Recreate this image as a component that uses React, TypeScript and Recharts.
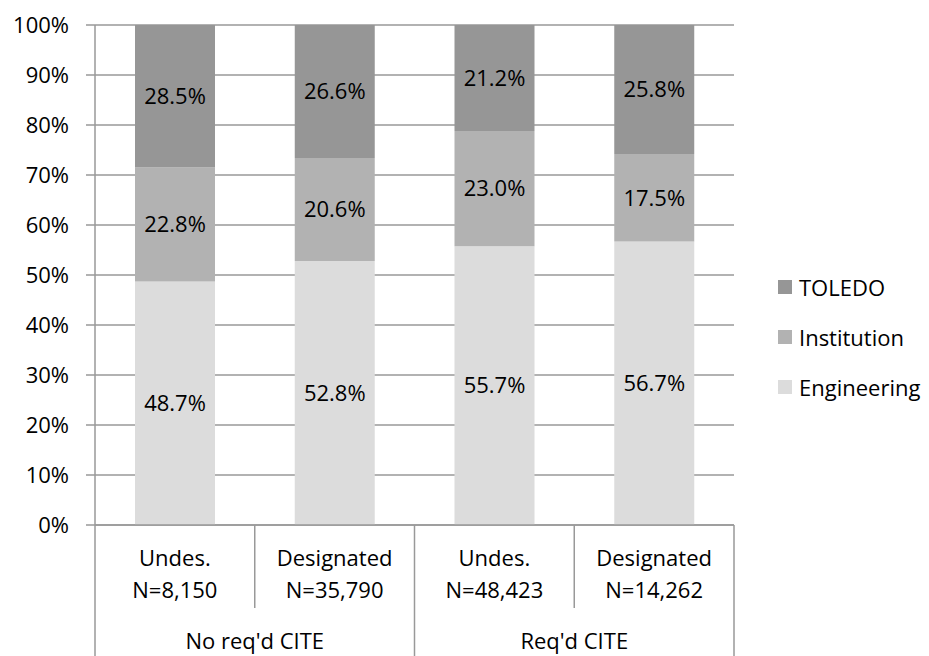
import React from 'react';
import { BarChart, Bar, XAxis, YAxis, CartesianGrid, LabelList } from 'recharts';

const categories = ['Undes.', 'Designated', 'Undes.', 'Designated'];
const nLabels = ['N=8,150', 'N=35,790', 'N=48,423', 'N=14,262'];
const groups = ["No req'd CITE", "Req'd CITE"];
const engineering = [48.7, 52.8, 55.7, 56.7];
const institution = [22.8, 20.6, 23.0, 17.5];
const toledo = [28.5, 26.6, 21.2, 25.8];
const yTicks = [0, 0.1, 0.2, 0.3, 0.4, 0.5, 0.6, 0.7, 0.8, 0.9, 1];

const series = [
  { key: 'eng', name: 'Engineering', color: '#dcdcdc' },
  { key: 'inst', name: 'Institution', color: '#b2b2b2' },
  { key: 'tol', name: 'TOLEDO', color: '#969696' },
];

const W = 929;
const H = 656;
const LEFT = 95;
const RIGHT = 734;
const TOP = 25;
const BOTTOM = 525;
const BAND = (RIGHT - LEFT) / categories.length;
const FONT = '"Open Sans", sans-serif';
const GRID = '#999999';

const data = categories.map((c, i) => ({
  key: `${c} ${nLabels[i]}`,
  eng: engineering[i],
  inst: institution[i],
  tol: toledo[i],
}));

const CatTick = (props: any) => {
  const { x, y, index } = props;
  const left = x - BAND / 2;
  const right = x + BAND / 2;
  const groupStart = index % 2 === 0;
  const isLast = index === categories.length - 1;
  return (
    <g>
      <line x1={left} x2={left} y1={y} y2={groupStart ? H : y + 83} stroke={GRID} strokeWidth={1.5} />
      {isLast && <line x1={right} x2={right} y1={y} y2={H} stroke={GRID} strokeWidth={1.5} />}
      <text x={x} y={y + 35} textAnchor="middle" dominantBaseline="middle" fontSize={22} fontFamily={FONT} fill="#000">
        {categories[index]}
      </text>
      <text x={x} y={y + 67} textAnchor="middle" dominantBaseline="middle" fontSize={22} fontFamily={FONT} fill="#000">
        {nLabels[index]}
      </text>
      {groupStart && (
        <text x={right} y={y + 118} textAnchor="middle" dominantBaseline="middle" fontSize={22} fontFamily={FONT} fill="#000">
          {groups[index / 2]}
        </text>
      )}
    </g>
  );
};

const fmt = (v: any) => `${Number(v).toFixed(1)}%`;
const labelStyle = { fontSize: 22, fontFamily: FONT, fill: '#000' };

export default function App() {
  return (
    <div style={{ position: 'absolute', left: 0, top: 0, width: W, height: H, background: '#fff' }}>
      <BarChart
        width={W}
        height={H}
        data={data}
        stackOffset="expand"
        barSize={80}
        margin={{ top: TOP, right: W - RIGHT, bottom: 0, left: 0 }}
      >
        <CartesianGrid vertical={false} stroke={GRID} strokeWidth={1.5} />
        <XAxis
          dataKey="key"
          height={H - BOTTOM}
          axisLine={{ stroke: GRID, strokeWidth: 1.5 }}
          tickLine={false}
          tickSize={0}
          tickMargin={0}
          interval={0}
          tick={<CatTick />}
        />
        <YAxis
          width={LEFT}
          domain={[0, 1]}
          ticks={yTicks}
          tickFormatter={(v: number) => `${Math.round(v * 100)}%`}
          axisLine={{ stroke: GRID, strokeWidth: 1.5 }}
          tickLine={{ stroke: GRID, strokeWidth: 1.5 }}
          tickSize={9}
          tickMargin={17}
          tick={{ fontSize: 22, fontFamily: FONT, fill: '#000' }}
        />
        {series.map((s) => (
          <Bar key={s.key} dataKey={s.key} name={s.name} stackId="a" fill={s.color} isAnimationActive={false}>
            <LabelList dataKey={s.key} position="center" formatter={fmt} style={labelStyle} />
          </Bar>
        ))}
      </BarChart>
      <div style={{ position: 'absolute', left: 778, top: 262, fontFamily: FONT, fontSize: 22 }}>
        {[...series].reverse().map((s) => (
          <div key={s.key} style={{ display: 'flex', alignItems: 'center', height: 50 }}>
            <span style={{ width: 14, height: 14, background: s.color, display: 'inline-block', marginRight: 7 }} />
            <span style={{ color: '#000' }}>{s.name}</span>
          </div>
        ))}
      </div>
    </div>
  );
}
